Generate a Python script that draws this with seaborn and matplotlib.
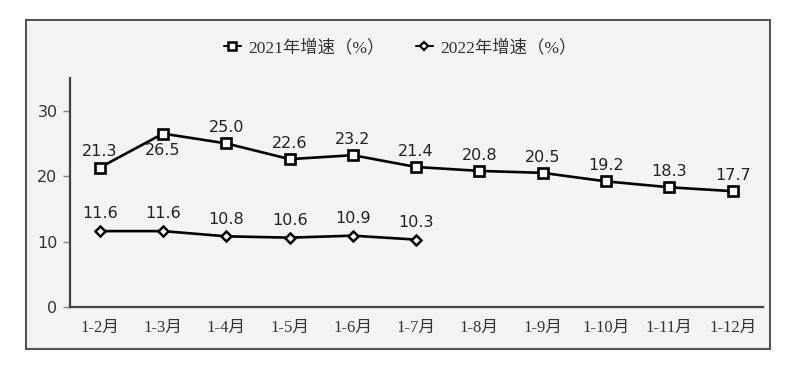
import matplotlib
matplotlib.use("Agg")
import matplotlib.pyplot as plt
import seaborn as sns
import pandas as pd
from matplotlib.patches import Rectangle
from matplotlib.lines import Line2D

months = ["1-2月", "1-3月", "1-4月", "1-5月", "1-6月", "1-7月", "1-8月", "1-9月", "1-10月", "1-11月", "1-12月"]
growth_2021 = [21.3, 26.5, 25.0, 22.6, 23.2, 21.4, 20.8, 20.5, 19.2, 18.3, 17.7]
growth_2022 = [11.6, 11.6, 10.8, 10.6, 10.9, 10.3]
label_2021 = "2021年增速（%）"
label_2022 = "2022年增速（%）"
yticks = [0, 10, 20, 30]

sns.set_theme(style="white")
plt.rcParams['font.family'] = ['DejaVu Sans', 'Noto Sans CJK SC']

fig = plt.figure(figsize=(8, 3.73), dpi=100)
fig.patch.set_facecolor("white")
frame = Rectangle((26/800, (373-349)/373), (770-26)/800, (349-20)/373,
                  transform=fig.transFigure, facecolor="#f4f4f4",
                  edgecolor="#555555", linewidth=1.5, zorder=-5)
fig.patches.append(frame)

ax = fig.add_axes([70/800, (373-307)/373, (763-70)/800, (307-78)/373])
ax.set_facecolor("none")
ax.set_zorder(2)

df21 = pd.DataFrame({"month": months, "value": growth_2021})
df22 = pd.DataFrame({"month": months[:len(growth_2022)], "value": growth_2022})

sns.lineplot(data=df21, x="month", y="value", ax=ax, color="black", linewidth=1.9,
             marker="s", markersize=7.2, markerfacecolor="white",
             markeredgecolor="black", markeredgewidth=1.9, sort=False)
sns.lineplot(data=df22, x="month", y="value", ax=ax, color="black", linewidth=1.9,
             marker="D", markersize=5.5, markerfacecolor="white",
             markeredgecolor="black", markeredgewidth=1.8, sort=False)

for i, v in enumerate(growth_2021):
    if i == 1:
        ax.annotate(f"{v:.1f}", (i, v), xytext=(0, -7), textcoords="offset points",
                    ha="center", va="top", fontsize=11.5, color="#222222")
    else:
        ax.annotate(f"{v:.1f}", (i, v), xytext=(0, 6), textcoords="offset points",
                    ha="center", va="bottom", fontsize=11.5, color="#222222")
for i, v in enumerate(growth_2022):
    ax.annotate(f"{v:.1f}", (i, v), xytext=(0, 7), textcoords="offset points",
                ha="center", va="bottom", fontsize=11.5, color="#222222")

ax.set_xlim(-0.47, 10.48)
ax.set_ylim(0, 35)
ax.set_yticks(yticks)
ax.set_yticklabels([str(t) for t in yticks], fontsize=11.5, color="#333333")
ax.set_xticks(range(len(months)))
ax.set_xticklabels(months, fontsize=12, color="#333333",
                   family=['Liberation Serif', 'Noto Sans CJK SC'])
ax.set_xlabel("")
ax.set_ylabel("")
for s in ["top", "right"]:
    ax.spines[s].set_visible(False)
for s in ["left", "bottom"]:
    ax.spines[s].set_color("#444444")
    ax.spines[s].set_linewidth(1.6)
ax.tick_params(axis="y", left=True, length=5, width=1, color="#888888", pad=4)
ax.tick_params(axis="x", bottom=False, pad=3)

h1 = Line2D([], [], color="black", linewidth=1.5, marker="s", markersize=6,
            markerfacecolor="white", markeredgecolor="black", markeredgewidth=1.8)
h2 = Line2D([], [], color="black", linewidth=1.5, marker="D", markersize=4.5,
            markerfacecolor="white", markeredgecolor="black", markeredgewidth=1.6)
leg = fig.legend([h1, h2], [label_2021, label_2022], loc="center",
                 bbox_to_anchor=(0.5, (373-48)/373), ncol=2, frameon=False,
                 handlelength=1.0, handletextpad=0.4, columnspacing=1.8,
                 prop={'family': ['Liberation Serif', 'Noto Sans CJK SC'], 'size': 12.5})
for t in leg.get_texts():
    t.set_color("#333333")

fig.savefig("out.png", dpi=100, facecolor=fig.get_facecolor())
